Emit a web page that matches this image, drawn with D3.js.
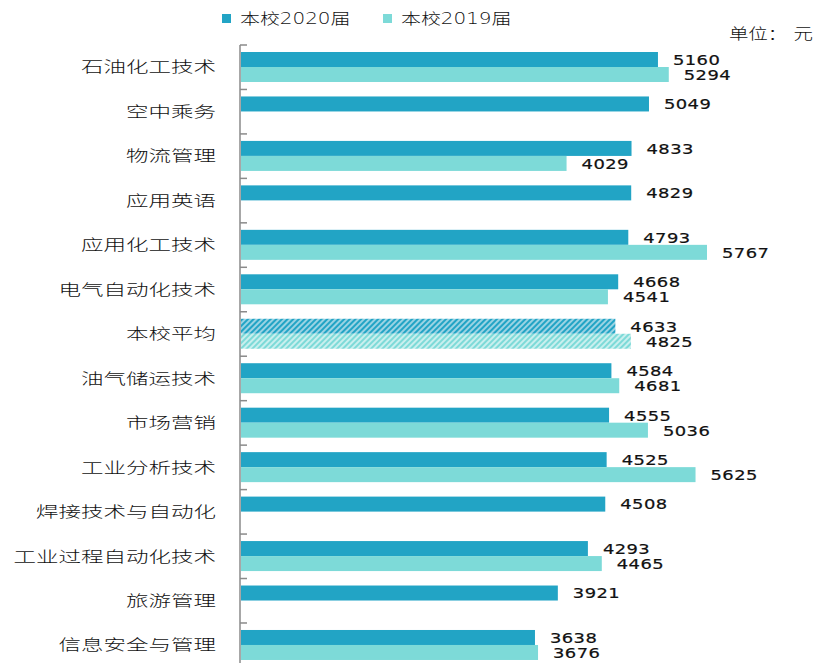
<!DOCTYPE html>
<html>
<head>
<meta charset="utf-8">
<script src="https://cdn.jsdelivr.net/npm/d3@7"></script>
<style>
  html, body { margin: 0; padding: 0; background: #fff; }
  svg { display: block; }
  text { font-family: "DejaVu Sans", "Noto Sans CJK SC", sans-serif; fill: #111; }
  .cjk { font-weight: 300; }
</style>
</head>
<body>
<svg id="chart" width="816" height="663"></svg>
<script>
// Monthly starting salary by major, two graduating cohorts (unit: yuan)
const categories = [
  "石油化工技术", "空中乘务", "物流管理", "应用英语", "应用化工技术",
  "电气自动化技术", "本校平均", "油气储运技术", "市场营销", "工业分析技术",
  "焊接技术与自动化", "工业过程自动化技术", "旅游管理", "信息安全与管理"
];
const seriesNames = ["本校2020届", "本校2019届"];
const values2020 = [5160, 5049, 4833, 4829, 4793, 4668, 4633, 4584, 4555, 4525, 4508, 4293, 3921, 3638];
const values2019 = [5294, null, 4029, null, 5767, 4541, 4825, 4681, 5036, 5625, null, 4465, null, 3676];
const averageCategory = "本校平均";
const unitLabel = "单位：  元";

const colors = ["#22A4C5", "#7DDAD8"];
const hatchBack = ["#9AD3E3", "#C9EFEE"];

const svg = d3.select("#chart");
const axisX = 241;

const x = d3.scaleLinear().domain([0, 5767]).range([axisX, 707]);
const y = d3.scaleBand().domain(categories).range([45, 45 + 14 * 44.46]).padding(0);
const ySub = d3.scaleBand().domain(seriesNames).range([7, y.bandwidth() - 7.46]).padding(0);

// Hatch patterns for the average row
const defs = svg.append("defs");
colors.forEach((c, i) => {
  const p = defs.append("pattern")
    .attr("id", "hatch" + i)
    .attr("patternUnits", "userSpaceOnUse")
    .attr("width", 4).attr("height", 4)
    .attr("patternTransform", "rotate(45)");
  p.append("rect").attr("width", 4).attr("height", 4).attr("fill", hatchBack[i]);
  p.append("rect").attr("width", 2).attr("height", 4).attr("fill", c);
});

const rows = categories.map((cat, i) => ({
  cat,
  series: [
    { name: seriesNames[0], idx: 0, value: values2020[i] },
    { name: seriesNames[1], idx: 1, value: values2019[i] }
  ].filter(d => d.value != null)
}));

const stretch = (sx) => (px, py) => `translate(${px},${py}) scale(${sx},1)`;
const catT = stretch(1.5);
const numT = stretch(1.33);

// Bars and value labels
const g = svg.append("g");
rows.forEach(row => {
  const isAvg = row.cat === averageCategory;
  row.series.forEach(s => {
    const by = y(row.cat) + ySub(s.name);
    g.append("rect")
      .attr("x", x(0))
      .attr("y", by)
      .attr("width", x(s.value) - x(0))
      .attr("height", ySub.bandwidth())
      .attr("fill", isAvg ? `url(#hatch${s.idx})` : colors[s.idx]);
    g.append("text")
      .attr("transform", numT(x(s.value) + 15, by + ySub.bandwidth() / 2 + 0.5))
      .attr("dy", "0.36em")
      .attr("font-size", 13.5)
      .attr("letter-spacing", 0.3)
      .attr("stroke", "#111")
      .attr("stroke-width", 0.2)
      .text(d3.format("d")(s.value));
  });
});

// Category labels
svg.append("g").selectAll("text").data(categories).join("text")
  .attr("class", "cjk")
  .attr("transform", d => catT(216, y(d) + y.bandwidth() / 2))
  .attr("text-anchor", "end")
  .attr("dy", "0.35em")
  .attr("font-size", 15)
  .text(d => d);

// Axis line with inward boundary ticks
const axisG = svg.append("g").attr("stroke", "#8a8a8a").attr("stroke-width", 1.5);
axisG.append("line")
  .attr("x1", axisX - 1).attr("x2", axisX - 1)
  .attr("y1", y.range()[0]).attr("y2", 663);
const bounds = categories.map(c => y(c)).concat([y.range()[1]]);
axisG.selectAll("line.tick").data(bounds).join("line")
  .attr("class", "tick")
  .attr("x1", axisX - 1).attr("x2", axisX + 6)
  .attr("y1", d => d).attr("y2", d => d);

// Legend
const legendPos = [222, 383];
seriesNames.forEach((name, i) => {
  const lg = svg.append("g");
  lg.append("rect").attr("x", legendPos[i]).attr("y", 14).attr("width", 9).attr("height", 9).attr("fill", colors[i]);
  lg.append("text")
    .attr("class", "cjk")
    .attr("transform", stretch(1.33)(legendPos[i] + 18, 18.5))
    .attr("dy", "0.36em")
    .attr("font-size", 15)
    .text(name);
});

// Unit note
svg.append("text")
  .attr("class", "cjk")
  .attr("transform", stretch(1.3)(813, 34))
  .attr("text-anchor", "end")
  .attr("dy", "0.35em")
  .attr("font-size", 15)
  .text(unitLabel);
</script>
</body>
</html>
